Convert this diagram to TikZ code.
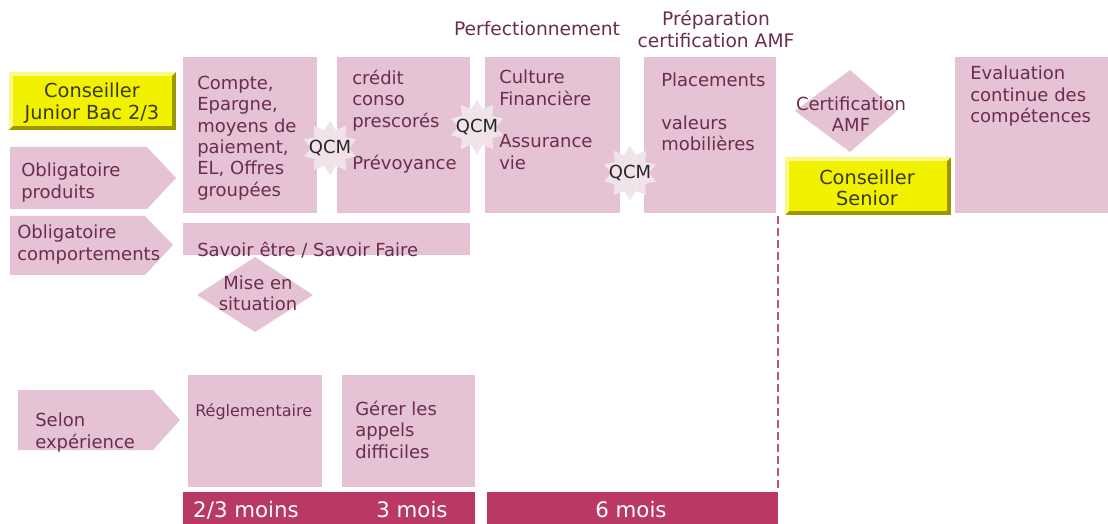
\documentclass[tikz,border=0pt]{standalone}
\usepackage{fontspec}
\setmainfont{DejaVu Sans}
\usetikzlibrary{shapes.geometric}

\definecolor{boxpink}{HTML}{E5C3D4}
\definecolor{ink}{HTML}{6B2D4E}
\definecolor{barred}{HTML}{B93866}
\definecolor{dashred}{HTML}{C2527D}
\definecolor{yface}{HTML}{F2F200}
\definecolor{ylight}{HTML}{FAFA8C}
\definecolor{ydark}{HTML}{9C9600}
\definecolor{yink}{HTML}{3A3A10}
\definecolor{starfill}{HTML}{F1E3EA}

\tikzset{
  txt/.style={inner sep=0pt, text=ink, align=left, font=\fontsize{13.5pt}{16pt}\selectfont},
  ctxt/.style={txt, align=center},
  titletxt/.style={ctxt, font=\fontsize{14pt}{16.5pt}\selectfont},
  ytxt/.style={ctxt, text=yink, font=\fontsize{14.5pt}{16pt}\selectfont},
  smalltxt/.style={txt, font=\fontsize{12pt}{14pt}\selectfont},
  pinkbox/.style={fill=boxpink},
  barlbl/.style={inner sep=0pt, text=white, font=\fontsize{16pt}{19pt}\selectfont},
  burst/.style={star, star points=10, star point ratio=1.45, fill=starfill, draw=none, minimum size=41pt, inner sep=0pt},
  qcmtxt/.style={inner sep=0pt, text=black!85, font=\fontsize{13.5pt}{16pt}\selectfont},
}

% bevelled yellow panel: corners (x1,y1) and (x2,y2), y downwards
\newcommand\bevelpanel[4]{%
  \fill[ydark] (#1,#2) rectangle (#3,#4);
  \fill[ylight] (#1,#2) -- (#3,#2) -- (#3-4,#2+4) -- (#1+4,#4-4) -- (#1,#4) -- cycle;
  \fill[yface] (#1+4,#2+4) rectangle (#3-4,#4-4);
}

\begin{document}
\begin{tikzpicture}[x=0.75pt,y=-0.75pt]
\useasboundingbox (0,0) rectangle (1108,524);

% ---- left column: profile and row headings
\bevelpanel{9}{72}{176}{130}
\node[ytxt] (junior) at (92,103) {Conseiller\\Junior Bac 2/3};

\fill[pinkbox] (10,147) -- (147,147) -- (176,178) -- (147,209) -- (10,209) -- cycle;
\node[txt, anchor=north west] (oblprod) at (21,163) {Obligatoire\\produits};

\fill[pinkbox] (10,216) -- (145,216) -- (173,245) -- (145,275) -- (10,275) -- cycle;
\node[txt, anchor=north west] (oblcomp) at (17,225) {Obligatoire\\comportements};

\fill[pinkbox] (18,390) -- (153,390) -- (180,420) -- (153,450) -- (18,450) -- cycle;
\node[txt, anchor=north west] (selon) at (35,413) {Selon\\expérience};

% ---- phase titles
\node[titletxt] (perf) at (537,29) {Perfectionnement};
\node[titletxt] (prep) at (716,29) {Préparation\\certification AMF};

% ---- product modules
\fill[pinkbox] (183,57) rectangle (317,213);
\node[txt, anchor=north west] (m1) at (197,76) {Compte,\\Epargne,\\moyens de\\paiement,\\EL, Offres\\groupées};

\fill[pinkbox] (337,57) rectangle (470,213);
\node[txt, anchor=north west] (m2) at (352,70) {crédit\\conso\\prescorés\\[16pt]Prévoyance};

\fill[pinkbox] (485,57) rectangle (620,213);
\node[txt, anchor=north west] (m3) at (499,70) {Culture\\Financière\\[16pt]Assurance\\vie};

\fill[pinkbox] (644,57) rectangle (776,213);
\node[txt, anchor=north west] (m4) at (661,73) {Placements\\[16pt]valeurs\\mobilières};

\fill[pinkbox] (955,57) rectangle (1108,213);
\node[txt, anchor=north west] (evalc) at (970,66) {Evaluation\\continue des\\compétences};

% ---- QCM checkpoints
\node[burst] (q1s) at (330,148) {};
\node[qcmtxt] (q1) at (330,148) {QCM};
\node[burst] (q2s) at (477,127) {};
\node[qcmtxt] (q2) at (477,127) {QCM};
\node[burst] (q3s) at (630,173) {};
\node[qcmtxt] (q3) at (630,173) {QCM};

% ---- certification and senior profile
\fill[pinkbox] (850,70) -- (897,111) -- (850,152) -- (795,111) -- cycle;
\node[ctxt] (certif) at (851,114) {Certification\\AMF};

\bevelpanel{785}{157}{951}{215}
\node[ytxt] (senior) at (867,188) {Conseiller\\Senior};

% ---- behaviour row
\fill[pinkbox] (183,223) rectangle (470,255);
\node[txt, anchor=north west] (savoir) at (197,242) {Savoir être / Savoir Faire};

\fill[pinkbox] (255,257) -- (313,295) -- (255,332) -- (197,295) -- cycle;
\node[ctxt] (mise) at (258,293) {Mise en\\situation};

% ---- experience row
\fill[pinkbox] (188,375) rectangle (322,487);
\node[smalltxt, anchor=north west] (regl) at (195,403) {Réglementaire};

\fill[pinkbox] (342,375) rectangle (475,487);
\node[txt, anchor=north west] (gerer) at (355,401) {Gérer les\\appels\\difficiles};

% ---- duration bars
\fill[barred] (183,492) rectangle (475,524);
\node[barlbl] (d1) at (246,510) {2/3 moins};
\node[barlbl] (d2) at (412,510) {3 mois};
\fill[barred] (487,492) rectangle (778,524);
\node[barlbl] (d3) at (631,510) {6 mois};

% ---- end of the six-month phase
\coordinate (dtop) at (778,216);
\coordinate (dbot) at (778,492);
\draw[dashred, line width=1.5pt, dash pattern=on 6pt off 3pt] (dtop) -- (dbot);
\end{tikzpicture}
\end{document}
